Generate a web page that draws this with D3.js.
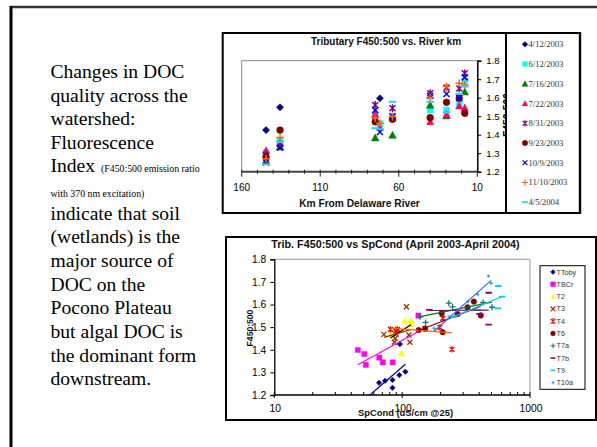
<!DOCTYPE html>
<html><head><meta charset="utf-8">
<script src="https://cdn.jsdelivr.net/npm/d3@7"></script>
<style>body{margin:0;background:#fff} svg{display:block}</style>
</head><body><svg id="c" width="597" height="447"></svg>
<script>
// ---------------- DATA: top chart (Tributary F450:500 vs River km) ----------------
const riverKm = [144.5, 135.6, 75, 72, 64, 40, 29.6, 21.5, 18];
const dateLabels = ["4/12/2003","6/12/2003","7/16/2003","7/22/2003","8/31/2003","9/23/2003","10/9/2003","11/10/2003","4/5/2004"];
const f_0412_2003 = [1.425, 1.548, null, 1.597, null, null, null, null, null];
const f_0612_2003 = [1.30, 1.37, 1.50, 1.46, 1.50, 1.533, 1.533, 1.57, 1.69];
const f_0716_2003 = [1.26, 1.335, 1.384, null, 1.398, 1.561, 1.503, null, 1.632];
const f_0722_2003 = [1.315, 1.355, 1.51, 1.44, 1.49, 1.47, 1.51, 1.555, 1.546];
const f_0831_2003 = [1.29, 1.35, 1.561, null, 1.543, 1.624, 1.655, 1.65, 1.732];
const f_0923_2003 = [1.28, 1.425, 1.47, null, 1.483, 1.492, 1.575, 1.597, 1.516];
const f_1009_2003 = [1.25, 1.33, 1.533, 1.415, 1.50, 1.61, 1.62, 1.60, 1.71];
const f_1110_2003 = [1.27, 1.385, 1.49, 1.462, 1.497, 1.60, 1.66, 1.678, 1.669];
const f_0405_2004 = [1.24, 1.36, 1.435, 1.43, 1.578, 1.578, 1.52, 1.62, 1.66];
const kmTicks = [160, 110, 60, 10];
const fTicks = [1.2, 1.3, 1.4, 1.5, 1.6, 1.7, 1.8];

// ---------------- DATA: bottom chart (F450:500 vs SpCond) ----------------
const siteNames = ["TToby","TBCr","T2","T3","T4","T6","T7a","T7b","T9","T10a"];
const cond_TToby = [49, 66, 73.5, 84, 84, 95, 106, 96];
const f_TToby    = [1.17, 1.254, 1.263, 1.266, 1.232, 1.288, 1.303, 1.425];
const cond_TBCr  = [45, 50.6, 52, 66.3, 70.5, 84.3, 134];
const f_TBCr     = [1.399, 1.381, 1.333, 1.365, 1.344, 1.344, 1.551];
const cond_T2    = [81, 89, 105, 117, 117, 99];
const f_T2       = [1.465, 1.495, 1.529, 1.529, 1.513, 1.384];
const cond_T3    = [72, 87, 88, 90, 92, 108, 115, 113];
const f_T3       = [1.468, 1.433, 1.45, 1.47, 1.485, 1.59, 1.433, 1.465];
const cond_T4    = [81, 89, 92, 151, 197, 208, 245];
const f_T4       = [1.49, 1.483, 1.49, 1.495, 1.499, 1.539, 1.402];
const cond_T6    = [134.6, 151, 203.6, 207.6, 271.5, 324.5, 364, 412];
const f_T6       = [1.487, 1.492, 1.561, 1.477, 1.558, 1.588, 1.613, 1.552];
const cond_T7a   = [138, 152.5, 232, 248, 430, 505];
const f_T7a      = [1.546, 1.521, 1.606, 1.59, 1.609, 1.588];
const cond_T7b   = [163, 402, 475, 475];
const f_T7b      = [1.576, 1.559, 1.652, 1.511];
const cond_T9    = [240, 390, 560, 565, 605];
const f_T9       = [1.548, 1.576, 1.583, 1.682, 1.635];
const cond_T10a  = [177.5, 259, 327, 390, 473, 496];
const f_T10a     = [1.495, 1.546, 1.613, 1.645, 1.726, 1.694];
const condTicks = [10, 100, 1000];

// ---------------- helpers ----------------
function marker(type, s) {
  switch (type) {
    case "diamond": return `M0,${-s}L${s},0L0,${s}L${-s},0Z`;
    case "square": return `M${-s},${-s}H${s}V${s}H${-s}Z`;
    case "triangle": return `M0,${-s}L${s},${s*0.85}L${-s},${s*0.85}Z`;
    case "circle": return `M${-s},0A${s},${s} 0 1,0 ${s},0A${s},${s} 0 1,0 ${-s},0Z`;
    case "x": return `M${-s},${-s}L${s},${s}M${-s},${s}L${s},${-s}`;
    case "star": return `M${-s},${-s}L${s},${s}M${-s},${s}L${s},${-s}M0,${-s*1.3}V${s*1.3}`;
    case "plus": return `M${-s},0H${s}M0,${-s}V${s}`;
    case "dash": return `M${-s},0H${s}`;
  }
}
const filled = t => ["diamond","square","triangle","circle"].includes(t);

const svg = d3.select("#c");
svg.append("rect").attr("width",597).attr("height",447).attr("fill","#fff");

// slide frame
svg.append("line").attr("x1",10).attr("x2",597).attr("y1",7).attr("y2",7).attr("stroke","#333").attr("stroke-width",2.5);
svg.append("line").attr("x1",11).attr("x2",11).attr("y1",6).attr("y2",447).attr("stroke","#000").attr("stroke-width",3);

// left text
const serif = "'Liberation Serif','Times New Roman',serif";
const sans = "'Liberation Sans',Arial,sans-serif";
const bigLines = [
  ["Changes in DOC", 78], ["quality across the", 101.8], ["watershed:", 125.2], ["Fluorescence", 149]
];
bigLines.forEach(([t,y]) => svg.append("text").attr("x",50.5).attr("y",y).attr("font-family",serif).attr("font-size",19.6).attr("fill","#000").text(t));
const idx = svg.append("text").attr("x",50.5).attr("y",172.4).attr("font-family",serif).attr("fill","#000");
idx.append("tspan").attr("font-size",19.6).text("Index ");
idx.append("tspan").attr("font-size",9.8).attr("dx",1).text("(F450:500 emission ratio");
svg.append("text").attr("x",50.5).attr("y",196.5).attr("font-family",serif).attr("font-size",9.8).text("with 370 nm excitation)");
const lowLines = ["indicate that soil","(wetlands) is the","major source of","DOC on the","Pocono Plateau","but algal DOC is","the dominant form","downstream."];
lowLines.forEach((t,i) => svg.append("text").attr("x",50.5).attr("y",219.6 + i*23.67).attr("font-family",serif).attr("font-size",19.6).attr("fill","#000").text(t));

// ================= TOP CHART =================
const T = {x0:241.7, x1:477.3, y0:60.7, y1:171.7};
const xKm = d3.scaleLinear().domain([160,10]).range([T.x0,T.x1]);
const yTop = d3.scaleLinear().domain([1.2,1.8]).range([T.y1,T.y0]);

svg.append("rect").attr("x",222.7).attr("y",33).attr("width",357.5).attr("height",180)
  .attr("fill","#fff").attr("stroke","#000").attr("stroke-width",2);

// hidden y-axis title (mostly covered by legend)
svg.append("text").attr("transform",`translate(510.8,115) rotate(-90)`).attr("text-anchor","middle")
  .attr("font-family",sans).attr("font-weight","bold").attr("font-size",10.3).attr("fill","#000").text("F450:500");

// plot border (gray top & left)
svg.append("path").attr("d",`M${T.x0},${T.y1}V${T.y0}H${T.x1}`).attr("fill","none").attr("stroke","#888").attr("stroke-width",1);

// title
svg.append("text").attr("x",386).attr("y",45.3).attr("text-anchor","middle").attr("font-family",sans)
  .attr("font-weight","bold").attr("font-size",10).attr("fill","#111").text("Tributary F450:500 vs. River km");

// right y axis
const gy = svg.append("g").attr("transform",`translate(${T.x1},0)`)
  .call(d3.axisRight(yTop).tickValues(fTicks).tickFormat(d3.format(".1f")).tickSize(4).tickPadding(5));
gy.select(".domain").attr("stroke","#000").attr("stroke-width",1.5);
gy.selectAll(".tick line").attr("stroke","#000");
gy.selectAll(".tick text").attr("font-family",sans).attr("font-size",9.6).attr("fill","#000");

// bottom x axis
const gxT = svg.append("g");
gxT.append("line").attr("x1",T.x0).attr("x2",T.x1+1).attr("y1",T.y1).attr("y2",T.y1).attr("stroke","#444").attr("stroke-width",2);
gxT.selectAll(".mn").data(d3.range(10,161,10)).join("line")
  .attr("x1",d=>xKm(d)).attr("x2",d=>xKm(d)).attr("y1",T.y1-2).attr("y2",d=>kmTicks.includes(d)?T.y1+5:T.y1+2)
  .attr("stroke","#222").attr("stroke-width",1);
gxT.selectAll(".lb").data(kmTicks).join("text")
  .attr("x",d=>xKm(d)).attr("y",190.5).attr("text-anchor","middle").attr("font-family",sans).attr("font-size",10).attr("fill","#000").text(d=>d);
svg.append("text").attr("x",359.5).attr("y",206.7).attr("text-anchor","middle").attr("font-family",sans)
  .attr("font-weight","bold").attr("font-size",10.2).attr("fill","#111").text("Km From Delaware River");

// series
const topSeries = [
  {vals:f_0412_2003, type:"diamond", color:"#000080", s:3.6},
  {vals:f_0612_2003, type:"square", color:"#00FFFF", s:3},
  {vals:f_0716_2003, type:"triangle", color:"#008000", s:3.8},
  {vals:f_0722_2003, type:"triangle", color:"#FF0066", s:3.6},
  {vals:f_0831_2003, type:"star", color:"#800080", s:3},
  {vals:f_0923_2003, type:"circle", color:"#800000", s:3.4},
  {vals:f_1009_2003, type:"x", color:"#0000FF", s:3},
  {vals:f_1110_2003, type:"plus", color:"#FF6600", s:3.8},
  {vals:f_0405_2004, type:"dash", color:"#33CCFF", s:3.8}
];
topSeries.forEach(ser => {
  const pts = riverKm.map((k,i)=>({k, v:ser.vals[i]})).filter(d=>d.v!=null);
  svg.append("g").selectAll("path").data(pts).join("path")
    .attr("transform",d=>`translate(${xKm(d.k)},${yTop(d.v)})`)
    .attr("d",marker(ser.type,ser.s))
    .attr("fill",filled(ser.type)?ser.color:"none")
    .attr("stroke",ser.color).attr("stroke-width",filled(ser.type)?0.5:(ser.type==="dash"?2:1.5));
});

// top legend
svg.append("rect").attr("x",506).attr("y",33).attr("width",73.8).attr("height",180)
  .attr("fill","#fff").attr("stroke","#000").attr("stroke-width",2);
const lgT = svg.append("g").selectAll("g").data(topSeries).join("g")
  .attr("transform",(d,i)=>`translate(525,${44.3 + i*19.74})`);
lgT.append("path").attr("d",d=>marker(d.type, d.s*0.8))
  .attr("fill",d=>filled(d.type)?d.color:"none").attr("stroke",d=>d.color)
  .attr("stroke-width",d=>filled(d.type)?0.4:(d.type==="dash"?1.8:1.2));
lgT.append("text").attr("x",3.5).attr("y",3).attr("font-family",serif).attr("font-size",8.6).attr("fill","#333")
  .text((d,i)=>dateLabels[i]);

// ================= BOTTOM CHART =================
const B = {x0:274.3, x1:530, y0:259.3, y1:395};
const xC = d3.scaleLog().domain([10,1000]).range([B.x0,B.x1]);
const yB = d3.scaleLinear().domain([1.2,1.8]).range([B.y1,B.y0]);

svg.append("rect").attr("x",226).attr("y",237).attr("width",370).attr("height",183)
  .attr("fill","#fff").attr("stroke","#000").attr("stroke-width",2);
svg.append("text").attr("x",395.5).attr("y",248).attr("text-anchor","middle").attr("font-family",sans)
  .attr("font-weight","bold").attr("font-size",10.8).attr("fill","#111").text("Trib. F450:500 vs SpCond (April 2003-April 2004)");

svg.append("path").attr("d",`M${B.x0},${B.y0}H${B.x1}V${B.y1}`).attr("fill","none").attr("stroke","#999").attr("stroke-width",1);

const defs = svg.append("defs");
defs.append("clipPath").attr("id","clipB").append("rect").attr("x",B.x0).attr("y",B.y0).attr("width",B.x1-B.x0).attr("height",B.y1-B.y0+0.5);

// y axis
const gyB = svg.append("g").attr("transform",`translate(${B.x0},0)`)
  .call(d3.axisLeft(yB).tickValues(fTicks).tickFormat(d3.format(".1f")).tickSize(4).tickPadding(4));
gyB.select(".domain").attr("stroke","#000").attr("stroke-width",1.3);
gyB.selectAll(".tick line").attr("stroke","#000");
gyB.selectAll(".tick text").attr("font-family",sans).attr("font-size",10.3).attr("fill","#000");
svg.append("text").attr("transform",`translate(252.5,328) rotate(-90)`).attr("text-anchor","middle")
  .attr("font-family",sans).attr("font-weight","bold").attr("font-size",8.6).attr("fill","#111").text("F450:500");

// x axis (log)
const gxB = svg.append("g");
gxB.append("line").attr("x1",B.x0).attr("x2",B.x1).attr("y1",B.y1).attr("y2",B.y1).attr("stroke","#000").attr("stroke-width",1.5);
const minorC = [];
[10,100].forEach(b => { for (let k=2;k<=9;k++) minorC.push(b*k); });
gxB.selectAll(".mn").data(minorC).join("line")
  .attr("x1",d=>xC(d)).attr("x2",d=>xC(d)).attr("y1",B.y1-3).attr("y2",B.y1).attr("stroke","#000");
gxB.selectAll(".mj").data(condTicks).join("line")
  .attr("x1",d=>xC(d)).attr("x2",d=>xC(d)).attr("y1",B.y1-3).attr("y2",B.y1+3).attr("stroke","#000");
gxB.selectAll(".lb").data(condTicks).join("text")
  .attr("x",d=>xC(d)+1).attr("y",411.5).attr("text-anchor","middle").attr("font-family",sans).attr("font-size",10.3).attr("fill","#000").text(d=>d);
svg.append("text").attr("x",405.5).attr("y",416).attr("text-anchor","middle").attr("font-family",sans)
  .attr("font-weight","bold").attr("font-size",9.4).attr("fill","#111").text("SpCond (uS/cm @25)");

const botSeries = [
  {c:cond_TToby, f:f_TToby, type:"diamond", color:"#000080", line:"#000099", s:2.8},
  {c:cond_TBCr, f:f_TBCr, type:"square", color:"#FF00FF", line:"#FF00FF", s:2.6},
  {c:cond_T2, f:f_T2, type:"triangle", color:"#FFFF00", line:"#000000", s:3.2},
  {c:cond_T3, f:f_T3, type:"x", color:"#993300", line:"#993300", s:2.5},
  {c:cond_T4, f:f_T4, type:"star", color:"#FF0000", line:"#FF6600", s:2.4},
  {c:cond_T6, f:f_T6, type:"circle", color:"#800000", line:"#800000", s:2.8},
  {c:cond_T7a, f:f_T7a, type:"plus", color:"#008080", line:"#008000", s:3},
  {c:cond_T7b, f:f_T7b, type:"dash", color:"#800080", line:"#800080", s:3.2},
  {c:cond_T9, f:f_T9, type:"dash", color:"#00CCFF", line:"#00CCFF", s:3.2},
  {c:cond_T10a, f:f_T10a, type:"plus", color:"#3399FF", line:"#3366FF", s:1.6}
];
const plotB = svg.append("g").attr("clip-path","url(#clipB)");
// markers
botSeries.forEach(ser => {
  const pts = ser.c.map((x,i)=>({x, y:ser.f[i]}));
  plotB.append("g").selectAll("path").data(pts).join("path")
    .attr("transform",d=>`translate(${xC(d.x)},${yB(d.y)})`)
    .attr("d",marker(ser.type,ser.s))
    .attr("fill",filled(ser.type)?ser.color:"none")
    .attr("stroke",ser.color).attr("stroke-width",filled(ser.type)?0.4:(ser.type==="dash"?1.8:1.3));
});
// logarithmic trendlines (least squares on log10 x)
botSeries.forEach(ser => {
  const lx = ser.c.map(Math.log10), n = lx.length;
  const mx = d3.mean(lx), my = d3.mean(ser.f);
  let sxy=0, sxx=0;
  lx.forEach((v,i)=>{ sxy += (v-mx)*(ser.f[i]-my); sxx += (v-mx)*(v-mx); });
  const b = sxy/sxx, a = my - b*mx;
  const xs = d3.extent(ser.c);
  plotB.append("line")
    .attr("x1",xC(xs[0])).attr("y1",yB(a + b*Math.log10(xs[0])))
    .attr("x2",xC(xs[1])).attr("y2",yB(a + b*Math.log10(xs[1])))
    .attr("stroke",ser.line).attr("stroke-width",1.2);
});

// bottom legend
svg.append("rect").attr("x",540).attr("y",265.7).attr("width",45).attr("height",123.6)
  .attr("fill","#fff").attr("stroke","#000").attr("stroke-width",1);
const lgB = svg.append("g").selectAll("g").data(botSeries).join("g")
  .attr("transform",(d,i)=>`translate(553,${272 + i*12.3})`);
lgB.append("path").attr("d",d=>marker(d.type, Math.min(d.s,2.4)))
  .attr("fill",d=>filled(d.type)?d.color:"none").attr("stroke",d=>d.color)
  .attr("stroke-width",d=>filled(d.type)?0.4:(d.type==="dash"?1.6:1.1));
lgB.append("text").attr("x",3.5).attr("y",2.5).attr("font-family",sans).attr("font-size",7.2).attr("fill","#333")
  .text((d,i)=>siteNames[i]);
</script></body></html>
